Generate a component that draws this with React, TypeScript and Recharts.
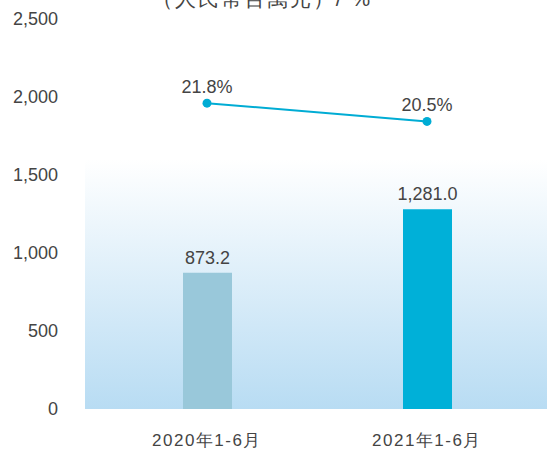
import { Bar, Cell, ComposedChart, LabelList, Line, XAxis, YAxis, usePlotArea } from 'recharts';

const PERIODS = ['2020年1-6月', '2021年1-6月'];
const AMOUNTS = [873.2, 1281.0];
const MARGINS = [21.8, 20.5];
const AMOUNT_TICKS = [0, 500, 1000, 1500, 2000, 2500];

const UNIT_LABEL = '（人民幣百萬元）/ %';
const FONT = '"Liberation Sans", Arial, sans-serif';
const TEXT_COLOR = '#444444';
const BAR_COLORS = ['#99c8da', '#00b0d8'];
const LINE_COLOR = '#00acd4';
const AMOUNT_MAX = 2500;
const BG_TOP = 1600;

const data = PERIODS.map((period, i) => ({
  period,
  amount: AMOUNTS[i],
  margin: MARGINS[i]
}));

// soft gradient panel behind the bars, spanning the full plot width
function Backdrop() {
  const area = usePlotArea();
  if (!area) return null;
  const top = area.y + area.height * (1 - BG_TOP / AMOUNT_MAX);
  return (
    <g>
      <defs>
        <linearGradient id="bgGrad" x1="0" x2="0" y1="0" y2="1">
          <stop offset="0%" stopColor="#ffffff" />
          <stop offset="100%" stopColor="#b8dcf3" />
        </linearGradient>
      </defs>
      <rect fill="url(#bgGrad)" height={area.y + area.height - top} width={area.width} x={area.x} y={top} />
    </g>
  );
}

export default function App() {
  return (
    <div style={{ position: 'absolute', left: 0, top: 0, width: 547, height: 458, background: '#fff' }}>
      <ComposedChart
        data={data}
        height={458}
        margin={{ top: 19, right: 0, bottom: 0, left: 0 }}
        style={{ fontFamily: FONT }}
        width={547}
      >
        <Backdrop />
        <XAxis
          axisLine={false}
          dataKey="period"
          height={49}
          interval={0}
          padding={{ left: 12, right: 10 }}
          tick={{ fill: TEXT_COLOR, fontSize: 17, letterSpacing: 1.5 }}
          tickLine={false}
          tickMargin={25}
          tickSize={0}
        />
        <YAxis
          axisLine={false}
          domain={[0, AMOUNT_MAX]}
          tick={{ fill: TEXT_COLOR, fontSize: 18 }}
          tickFormatter={(v: number) => v.toLocaleString('en-US')}
          tickLine={false}
          tickMargin={27}
          tickSize={0}
          ticks={AMOUNT_TICKS}
          width={85}
          yAxisId="amt"
        />
        <YAxis domain={[0, 27.8]} hide orientation="right" yAxisId="pct" />
        <Bar barSize={49} dataKey="amount" isAnimationActive={false} yAxisId="amt">
          {data.map((d, i) => (
            <Cell key={d.period} fill={BAR_COLORS[i]} />
          ))}
          <LabelList
            dataKey="amount"
            fill={TEXT_COLOR}
            fontSize={18}
            formatter={(v: number) => v.toLocaleString('en-US', { minimumFractionDigits: 1, maximumFractionDigits: 1 })}
            offset={9}
            position="top"
          />
        </Bar>
        <Line
          dataKey="margin"
          dot={{ r: 4.5, fill: LINE_COLOR, stroke: LINE_COLOR, strokeWidth: 0 }}
          isAnimationActive={false}
          stroke={LINE_COLOR}
          strokeWidth={2}
          type="linear"
          yAxisId="pct"
        >
          <LabelList
            dataKey="margin"
            fill={TEXT_COLOR}
            fontSize={18}
            formatter={(v: number) => `${v.toFixed(1)}%`}
            offset={10}
            position="top"
          />
        </Line>
        <text fill={TEXT_COLOR} fontSize={21} letterSpacing={2} textAnchor="middle" x={262} y={6}>
          {UNIT_LABEL}
        </text>
      </ComposedChart>
    </div>
  );
}
